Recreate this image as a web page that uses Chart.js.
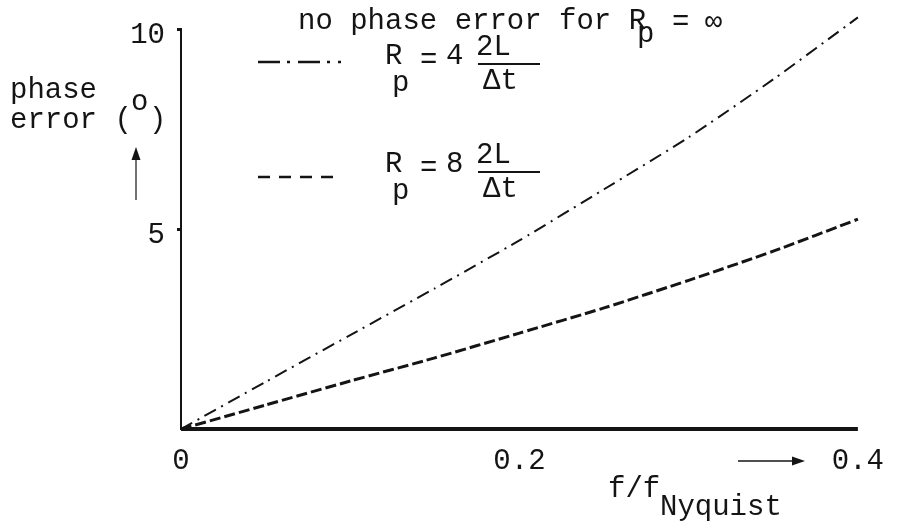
<!DOCTYPE html>
<html>
<head>
<meta charset="utf-8">
<title>phase error</title>
<script src="https://cdn.jsdelivr.net/npm/chart.js@4.4.1/dist/chart.umd.min.js"></script>
<style>
  html, body { margin: 0; padding: 0; background: #fff; }
</style>
</head>
<body>
<canvas id="phaseChart" width="899" height="531"></canvas>
<script>
// f / f_Nyquist
const fRatio = [0, 0.05, 0.1, 0.15, 0.2, 0.25, 0.3, 0.35, 0.4];
// phase error (degrees) for each Rp
const errRp4 = [0, 1.18, 2.35, 3.52, 4.72, 6.0, 7.3, 8.75, 10.3];
const errRp8 = [0, 0.6, 1.2, 1.78, 2.4, 3.03, 3.72, 4.45, 5.25];
const errRpInf = [0, 0, 0, 0, 0, 0, 0, 0, 0];
const xTicks = [0, 0.2, 0.4];
const xTickLabels = ['0', '0.2', '0.4'];
const yTicks = [5, 10];
const yTickLabels = ['5', '10'];

const INK = '#141414';
const MONO = "'Liberation Mono', 'Courier New', monospace";
const FS = 29;

function points(ys) {
  return fRatio.map((x, i) => ({ x: x, y: ys[i] }));
}

function arrow(c, x1, y1, x2, y2, w) {
  const a = Math.atan2(y2 - y1, x2 - x1);
  const len = 13, half = 4.5;
  c.lineWidth = w;
  c.setLineDash([]);
  c.beginPath();
  c.moveTo(x1, y1);
  c.lineTo(x2 - Math.cos(a) * len * 0.6, y2 - Math.sin(a) * len * 0.6);
  c.stroke();
  c.beginPath();
  c.moveTo(x2, y2);
  c.lineTo(x2 - Math.cos(a) * len - Math.sin(a) * half, y2 - Math.sin(a) * len + Math.cos(a) * half);
  c.lineTo(x2 - Math.cos(a) * len + Math.sin(a) * half, y2 - Math.sin(a) * len - Math.cos(a) * half);
  c.closePath();
  c.fill();
}

// legend entry: line sample, then R_p = k 2L/Δt; base is the "2L" baseline
function legendRow(c, sample, sampleY, k, base) {
  c.save();
  c.lineWidth = sample.width;
  c.setLineDash(sample.dash);
  c.beginPath();
  c.moveTo(258, sampleY);
  c.lineTo(341, sampleY);
  c.stroke();
  c.restore();
  c.fillText('R', 385, base + 9);
  c.fillText('p', 392, base + 36);
  c.fillText('=', 420, base + 13);
  c.fillText(k, 446, base + 9);
  c.fillText('2L', 476, base);
  c.fillRect(478, base + 8, 62, 2);
  c.fillText('\u0394t', 483, base + 34);
}

const annotations = {
  id: 'annotations',
  afterDraw(chart) {
    const c = chart.ctx;
    c.save();
    c.fillStyle = INK;
    c.strokeStyle = INK;
    c.font = FS + 'px ' + MONO;
    c.textAlign = 'left';
    c.textBaseline = 'alphabetic';

    // y axis title with arrow
    c.fillText('phase', 10, 98);
    c.fillText('error (', 10, 128);
    c.fillText('o', 131, 110);
    c.fillText(')', 149, 128);
    arrow(c, 136, 200, 136, 147, 1.2);

    // note for the zero line
    c.fillText('no phase error for R', 298, 29);
    c.fillText('p', 637, 42);
    c.fillText('=', 672, 30);
    c.fillText('\u221E', 705, 30);

    legendRow(c, { width: 2.4, dash: [22, 7, 3, 8] }, 62, '4', 55);
    legendRow(c, { width: 2.6, dash: [12, 9] }, 177, '8', 163);

    // x axis title with arrow
    arrow(c, 738, 461, 805, 461, 1.6);
    c.fillText('f/f', 608, 497);
    c.fillText('Nyquist', 660, 515);
    c.restore();
  }
};

const tickFont = { family: MONO, size: FS };

new Chart(document.getElementById('phaseChart'), {
  type: 'line',
  data: {
    datasets: [
      {
        label: 'Rp = 4 2L/\u0394t',
        data: points(errRp4),
        borderColor: INK,
        borderWidth: 2,
        borderDash: [13, 6, 2, 6],
        pointRadius: 0,
        tension: 0.2,
        clip: false
      },
      {
        label: 'Rp = 8 2L/\u0394t',
        data: points(errRp8),
        borderColor: INK,
        borderWidth: 3,
        borderDash: [11, 4],
        pointRadius: 0,
        tension: 0.2,
        clip: false
      },
      {
        label: 'Rp = \u221E',
        data: points(errRpInf),
        borderColor: INK,
        borderWidth: 4,
        pointRadius: 0,
        clip: false
      }
    ]
  },
  options: {
    responsive: false,
    animation: false,
    layout: { padding: { top: 28, right: 36, bottom: 0, left: 0 } },
    plugins: {
      legend: { display: false },
      tooltip: { enabled: false }
    },
    scales: {
      x: {
        type: 'linear',
        min: 0,
        max: 0.4,
        afterFit: s => { s.height = 102; },
        afterBuildTicks: s => { s.ticks = xTicks.map(v => ({ value: v })); },
        grid: { display: false, drawTicks: false },
        border: { display: false },
        ticks: {
          padding: 15,
          color: INK,
          font: tickFont,
          maxRotation: 0,
          autoSkip: false,
          callback: (v, i) => xTickLabels[i]
        }
      },
      y: {
        type: 'linear',
        min: 0,
        max: 10,
        afterFit: s => { s.width = 181; },
        afterBuildTicks: s => { s.ticks = yTicks.map(v => ({ value: v })); },
        grid: { drawOnChartArea: false, drawTicks: true, tickLength: 4, tickWidth: 3, color: INK },
        border: { display: true, color: INK, width: 2 },
        ticks: {
          padding: 12,
          labelOffset: 6,
          color: INK,
          font: tickFont,
          autoSkip: false,
          callback: (v, i) => yTickLabels[i]
        }
      }
    }
  },
  plugins: [annotations]
});
</script>
</body>
</html>
